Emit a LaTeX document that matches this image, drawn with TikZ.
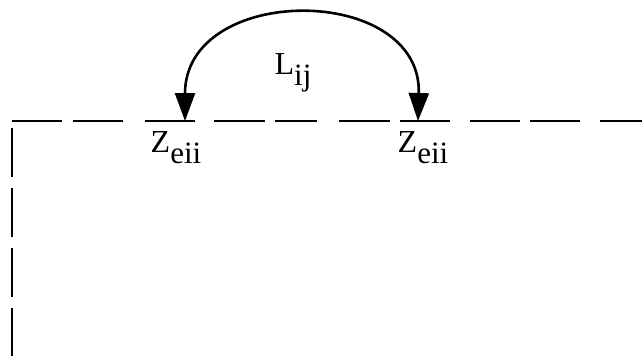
\documentclass[tikz,border=0pt]{standalone}
\usepackage{fontspec}
\setmainfont{Liberation Serif}
\usepackage{tikz}
\usetikzlibrary{arrows.meta}
\newcommand\lowtxt[1]{\raisebox{-11pt}{\fontsize{31}{31}\selectfont #1}}

\begin{document}
\begin{tikzpicture}[
  x=1pt, y=-1pt,
  wire/.style={line width=2.6pt, black},
  lbl/.style={font=\fontsize{32}{32}\selectfont, inner sep=0pt, anchor=base},
  loop/.style={line width=2.6pt, {Triangle[length=28pt,width=20pt]}-{Triangle[length=28pt,width=20pt]}}
]
  \useasboundingbox (0,0) rectangle (642,356);

  % dashed boundary
  \foreach \a/\b in {12/62,73/123,145/195,214/265,275/317,339/390,400/450,470/520,530/580,600/642} {
    \draw[wire] (\a,121) -- (\b,121);
  }
  \foreach \a/\b in {128/177,188/237,248/297,308/356} {
    \draw[wire] (12,\a) -- (12,\b);
  }

  \coordinate (zl) at (185,121);
  \coordinate (zr) at (418,121);

  \node[lbl] (zeil) at (176,152) {Z\lowtxt{eii}};
  \node[lbl] (zeir) at (423,152) {Z\lowtxt{eii}};
  \node[lbl] (lij)  at (293,74)  {L\lowtxt{ij}};

  \draw[loop] (zl) .. controls +(0,-138) and +(4,-138) .. (zr);
\end{tikzpicture}
\end{document}
